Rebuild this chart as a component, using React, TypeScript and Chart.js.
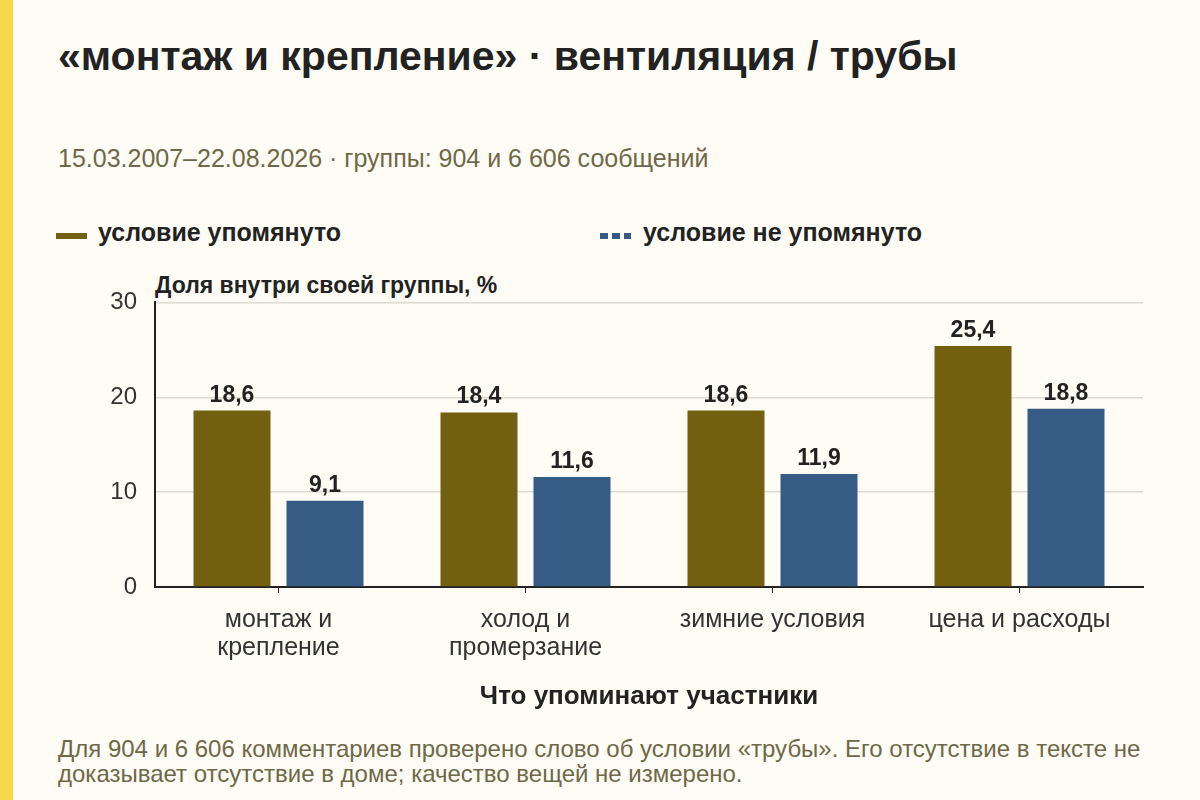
import { useEffect, useRef } from 'react';
import { Chart, registerables } from 'chart.js';

Chart.register(...registerables);

const categories: string[][] = [
  ['монтаж и', 'крепление'],
  ['холод и', 'промерзание'],
  ['зимние условия'],
  ['цена и расходы'],
];
const mentioned = [18.6, 18.4, 18.6, 25.4];
const notMentioned = [9.1, 11.6, 11.9, 18.8];
const yTicks = [0, 10, 20, 30];

const OLIVE = '#726010';
const BLUE = '#365b84';
const INK = '#222222';
const MUTED = '#6e6848';
const BG = '#fefcf4';
const FONT = '"Liberation Sans", Arial, sans-serif';

const fmt = (v: number) => v.toFixed(1).replace('.', ',');

const valueLabels = {
  id: 'valueLabels',
  afterDatasetsDraw(chart: Chart) {
    const { ctx } = chart;
    ctx.save();
    ctx.font = `bold 23px ${FONT}`;
    ctx.fillStyle = INK;
    ctx.textAlign = 'center';
    ctx.textBaseline = 'alphabetic';
    chart.data.datasets.forEach((ds, i) => {
      const meta = chart.getDatasetMeta(i);
      meta.data.forEach((bar, j) => {
        ctx.fillText(fmt(ds.data[j] as number), bar.x, bar.y - 9);
      });
    });
    ctx.restore();
  },
};

function BarChart() {
  const canvasRef = useRef<HTMLCanvasElement>(null);
  const chartRef = useRef<Chart | null>(null);

  useEffect(() => {
    if (!canvasRef.current) return;
    if (chartRef.current) chartRef.current.destroy();

    chartRef.current = new Chart(canvasRef.current, {
      type: 'bar',
      data: {
        labels: categories,
        datasets: [
          {
            label: 'условие упомянуто',
            data: mentioned,
            backgroundColor: OLIVE,
            categoryPercentage: 0.753,
            barPercentage: 0.828,
          },
          {
            label: 'условие не упомянуто',
            data: notMentioned,
            backgroundColor: BLUE,
            categoryPercentage: 0.753,
            barPercentage: 0.828,
          },
        ],
      },
      options: {
        animation: false,
        responsive: true,
        maintainAspectRatio: false,
        layout: { padding: { left: 0, right: 57, top: 32, bottom: 0 } },
        plugins: {
          legend: { display: false },
          tooltip: { enabled: false },
        },
        scales: {
          x: {
            afterFit: (scale) => {
              scale.height = 123;
            },
            grid: {
              offset: false,
              drawOnChartArea: false,
              drawTicks: true,
              tickLength: 6,
              color: INK,
            },
            border: { color: INK, width: 2 },
            ticks: {
              color: '#333333',
              padding: 13,
              font: { family: FONT, size: 25, lineHeight: 1.12 },
            },
            title: {
              display: true,
              text: 'Что упоминают участники',
              color: INK,
              padding: { top: 0, bottom: 0 },
              font: { family: FONT, size: 26, weight: 'bold', lineHeight: 1 },
            },
          },
          y: {
            min: 0,
            max: 30,
            afterFit: (scale) => {
              scale.width = 155;
            },
            afterBuildTicks: (scale) => {
              scale.ticks = yTicks.map((value) => ({ value }));
            },
            grid: { color: '#dddad2', lineWidth: 1.5, drawTicks: false },
            border: { color: INK, width: 2 },
            ticks: {
              color: '#333333',
              padding: 18,
              font: { family: FONT, size: 24 },
            },
          },
        },
      },
      plugins: [valueLabels],
    });

    return () => {
      if (chartRef.current) {
        chartRef.current.destroy();
        chartRef.current = null;
      }
    };
  }, []);

  return <canvas ref={canvasRef} />;
}

export default function App() {
  useEffect(() => {
    document.body.style.margin = '0';
  }, []);

  const abs = (left: number, top: number): React.CSSProperties => ({
    position: 'absolute',
    left,
    top,
    lineHeight: 1,
    whiteSpace: 'nowrap',
  });

  return (
    <div
      style={{
        position: 'relative',
        width: 1200,
        height: 800,
        background: BG,
        fontFamily: FONT,
        overflow: 'hidden',
      }}
    >
      <div style={{ position: 'absolute', left: 0, top: 0, width: 13, height: 800, background: '#f9d84a' }} />

      <div style={{ ...abs(58, 36), fontSize: 41, fontWeight: 'bold', color: INK }}>
        «монтаж и крепление» · вентиляция / трубы
      </div>
      <div style={{ ...abs(58, 146), fontSize: 25, color: MUTED }}>
        15.03.2007–22.08.2026 · группы: 904 и 6 606 сообщений
      </div>

      <div style={{ position: 'absolute', left: 56, top: 233, width: 31, height: 6, background: OLIVE }} />
      <div style={{ ...abs(98, 220), fontSize: 25, fontWeight: 'bold', color: INK }}>условие упомянуто</div>
      <div
        style={{
          position: 'absolute',
          left: 600,
          top: 233,
          width: 31,
          height: 6,
          background: `repeating-linear-gradient(90deg, ${BLUE} 0 8px, transparent 8px 12px)`,
        }}
      />
      <div style={{ ...abs(643, 220), fontSize: 25, fontWeight: 'bold', color: INK }}>условие не упомянуто</div>

      <div style={{ ...abs(155, 274), fontSize: 23, fontWeight: 'bold', color: INK }}>
        Доля внутри своей группы, %
      </div>

      <div style={{ position: 'absolute', left: 0, top: 270, width: 1200, height: 440 }}>
        <BarChart />
      </div>

      <div style={{ position: 'absolute', left: 58, top: 736, fontSize: 24, lineHeight: '25px', color: MUTED, width: 1130, whiteSpace: 'nowrap' }}>
        Для 904 и 6 606 комментариев проверено слово об условии «трубы». Его отсутствие в тексте не
        <br />
        доказывает отсутствие в доме; качество вещей не измерено.
      </div>
    </div>
  );
}
